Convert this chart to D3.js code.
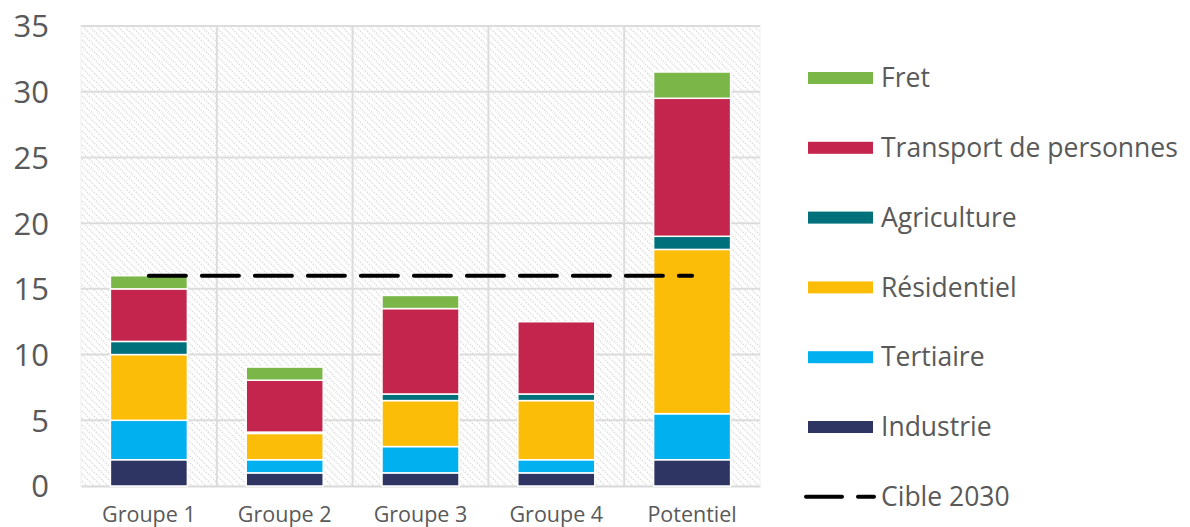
<!DOCTYPE html>
<html><head><meta charset="utf-8">
<script src="https://cdn.jsdelivr.net/npm/d3@7"></script>
<style>body{margin:0;background:#fff;} svg{display:block;font-family:"Open Sans","Noto Sans",sans-serif;}</style>
</head><body>
<svg id="c" width="1190" height="527"></svg>
<script>
const categories = ["Groupe 1","Groupe 2","Groupe 3","Groupe 4","Potentiel"];
const industrie   = [2, 1, 1, 1, 2];
const tertiaire   = [3, 1, 2, 1, 3.5];
const residentiel = [5, 2, 3.5, 4.5, 12.5];
const agriculture = [1, 0.1, 0.5, 0.5, 1];
const transport   = [4, 3.95, 6.5, 5.5, 10.5];
const fret        = [1, 1, 1, 0, 2];
const cible2030   = [16, 16, 16, 16, 16];
const seriesNames = ["Industrie","Tertiaire","Résidentiel","Agriculture","Transport de personnes","Fret"];
const seriesColors = ["#2E3562","#00B0EF","#FBBD07","#00707A","#C4254C","#7AB648"];
const yTicks = [0,5,10,15,20,25,30,35];

const seriesValues = [industrie, tertiaire, residentiel, agriculture, transport, fret];
const rows = categories.map((c,i)=>{const r={cat:c}; seriesNames.forEach((s,j)=>r[s]=seriesValues[j][i]); return r;});
const stack = d3.stack().keys(seriesNames)(rows);

const svg = d3.select("#c");
const L=81, R=760, T=26, B=486;
const x = d3.scaleBand().domain(categories).range([L,R]).paddingInner(0).paddingOuter(0);
const y = d3.scaleLinear().domain([0,35]).range([B,T]);

const defs = svg.append("defs");
const pat = defs.append("pattern").attr("id","hatch").attr("patternUnits","userSpaceOnUse").attr("width",7).attr("height",7);
pat.append("path").attr("d","M-1,-1 L8,8 M-4.5,2.5 L0.5,7.5 M2.5,-4.5 L7.5,0.5").attr("stroke","#dedede").attr("stroke-width",1.7).attr("stroke-dasharray","1.4,1.4");

svg.append("rect").attr("x",L).attr("y",T).attr("width",R-L).attr("height",B-T).attr("fill","url(#hatch)").attr("stroke","#f0f0f0");

// gridlines
svg.append("g").selectAll("line").data(yTicks.filter(d=>d>0)).join("line")
  .attr("x1",L).attr("x2",R).attr("y1",d=>y(d)).attr("y2",d=>y(d)).attr("stroke","#dcdcdc").attr("stroke-width",2);
svg.append("g").selectAll("line").data(categories.slice(1)).join("line")
  .attr("x1",d=>x(d)).attr("x2",d=>x(d)).attr("y1",T).attr("y2",B).attr("stroke","#dcdcdc").attr("stroke-width",2);

// y axis labels
const yAxis = d3.axisLeft(y).tickValues(yTicks).tickSize(0).tickPadding(0);
const yg = svg.append("g").attr("transform",`translate(49,0)`).call(yAxis);
yg.select(".domain").remove();
yg.selectAll("text").attr("font-size",31).attr("fill","#595959").attr("font-family","Open Sans, Noto Sans, sans-serif").attr("dy","0.35em");

// x axis
const xAxis = d3.axisBottom(x).tickSize(0).tickPadding(0);
const xg = svg.append("g").attr("transform",`translate(0,${B})`).call(xAxis);
xg.select(".domain").attr("stroke","#d9d9d9").attr("stroke-width",2);
xg.selectAll("text").attr("font-size",21.5).attr("fill","#595959").attr("font-family","Open Sans, Noto Sans, sans-serif").attr("y",36).attr("dy",0);

// bars
const bw = 77;
svg.append("g").selectAll("g").data(stack).join("g").attr("fill",(d,i)=>seriesColors[i])
  .selectAll("rect").data(d=>d.filter(p=>p[1]-p[0]>0)).join("rect")
  .attr("x",d=>x(d.data.cat)+x.bandwidth()/2-bw/2).attr("width",bw)
  .attr("y",d=>y(d[1])).attr("height",d=>y(d[0])-y(d[1]))
  .attr("stroke","#fff").attr("stroke-width",1.5);

// cible line
const line = d3.line().x((d,i)=>x(categories[i])+x.bandwidth()/2).y(d=>y(d));
svg.append("path").datum(cible2030).attr("d",line).attr("fill","none").attr("stroke","#000")
  .attr("stroke-width",4).attr("stroke-dasharray","37,16").attr("stroke-linecap","round");

// legend
const legendItems = ["Fret","Transport de personnes","Agriculture","Résidentiel","Tertiaire","Industrie"];
const lg = svg.append("g");
legendItems.forEach((name,i)=>{
  const cy = 78 + i*69.8;
  const col = seriesColors[seriesNames.indexOf(name)];
  lg.append("rect").attr("x",808).attr("y",cy-6).attr("width",65).attr("height",12).attr("fill",col);
  lg.append("text").attr("x",881).attr("y",cy).attr("dy","0.35em").attr("font-size",26.5).attr("fill","#595959").text(name);
});
const cy7 = 78 + 6*69.8;
lg.append("path").attr("d",`M806,${cy7} L874,${cy7}`).attr("stroke","#000").attr("stroke-width",4)
  .attr("stroke-dasharray","36,16").attr("stroke-linecap","round");
lg.append("text").attr("x",881).attr("y",cy7).attr("dy","0.35em").attr("font-size",26.5).attr("fill","#595959").text("Cible 2030");
</script>
</body></html>
